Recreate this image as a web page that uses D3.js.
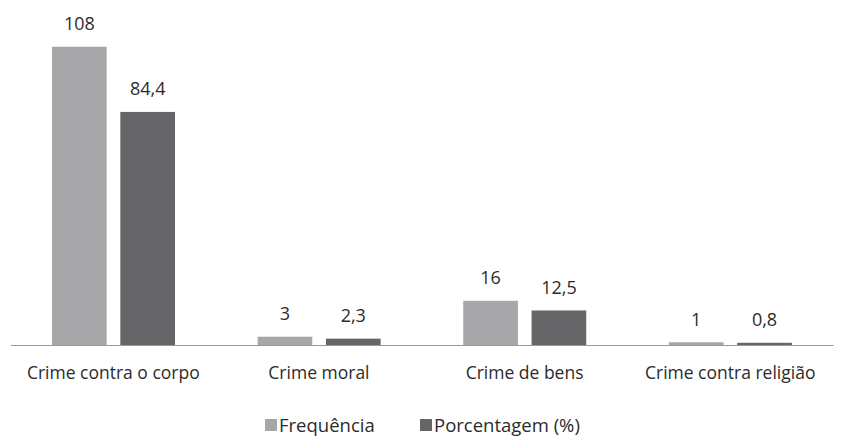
<!DOCTYPE html>
<html><head><meta charset="utf-8">
<script src="https://cdn.jsdelivr.net/npm/d3@7"></script>
<style>body{margin:0;background:#fff}svg{display:block}text{font-family:"Open Sans",sans-serif;fill:#2b2b2b}</style>
</head><body>
<script>
const categories = ["Crime contra o corpo", "Crime moral", "Crime de bens", "Crime contra religião"];
const seriesNames = ["Frequência", "Porcentagem (%)"];
const frequencia = [108, 3, 16, 1];
const porcentagem = [84.4, 2.3, 12.5, 0.8];
const labelsFreq = ["108", "3", "16", "1"];
const labelsPct = ["84,4", "2,3", "12,5", "0,8"];
const colors = ["#a7a7a9", "#666669"];

const W = 842, H = 438;
const svg = d3.select("body").append("svg").attr("width", W).attr("height", H);

const x0 = d3.scaleBand().domain(categories).range([10.5, 833]).padding(0);
const x1 = d3.scaleBand().domain(seriesNames).range([41.5, 164.5]).paddingInner(0.2);
const y = d3.scaleLinear().domain([0, 120]).range([345, 13.6]);

const rows = categories.map((c, i) => ({
  cat: c,
  vals: [
    {s: seriesNames[0], v: frequencia[i], lab: labelsFreq[i], col: colors[0]},
    {s: seriesNames[1], v: porcentagem[i], lab: labelsPct[i], col: colors[1]}
  ]
}));

const g = svg.selectAll("g.grp").data(rows).join("g")
  .attr("transform", d => `translate(${x0(d.cat)},0)`);

g.selectAll("rect").data(d => d.vals).join("rect")
  .attr("x", d => x1(d.s)).attr("width", x1.bandwidth())
  .attr("y", d => y(d.v)).attr("height", d => y(0) - y(d.v))
  .attr("fill", d => d.col);

g.selectAll("text.val").data(d => d.vals).join("text").attr("class", "val")
  .attr("x", d => x1(d.s) + x1.bandwidth() / 2)
  .attr("y", d => y(d.v) - 16.5)
  .attr("text-anchor", "middle").attr("font-size", 18)
  .text(d => d.lab);

// axis
const axis = svg.append("g").attr("transform", `translate(0,${y(0)})`)
  .call(d3.axisBottom(x0).tickSize(0).tickPadding(22));
axis.select(".domain").attr("stroke", "#9a9a9a").attr("stroke-width", 1.2);
axis.selectAll("text").attr("font-size", 17.5).attr("fill", "#2b2b2b")
  .style("font-family", "'Open Sans', sans-serif");

// legend
const legendX = [265, 420];
const lg = svg.selectAll("g.leg").data(seriesNames).join("g")
  .attr("transform", (d, i) => `translate(${legendX[i]},419)`);
lg.append("rect").attr("width", 12).attr("height", 12).attr("fill", (d, i) => colors[i]);
lg.append("text").attr("x", 14).attr("y", 12.5).attr("font-size", 18.5).text(d => d);
</script>
</body></html>
